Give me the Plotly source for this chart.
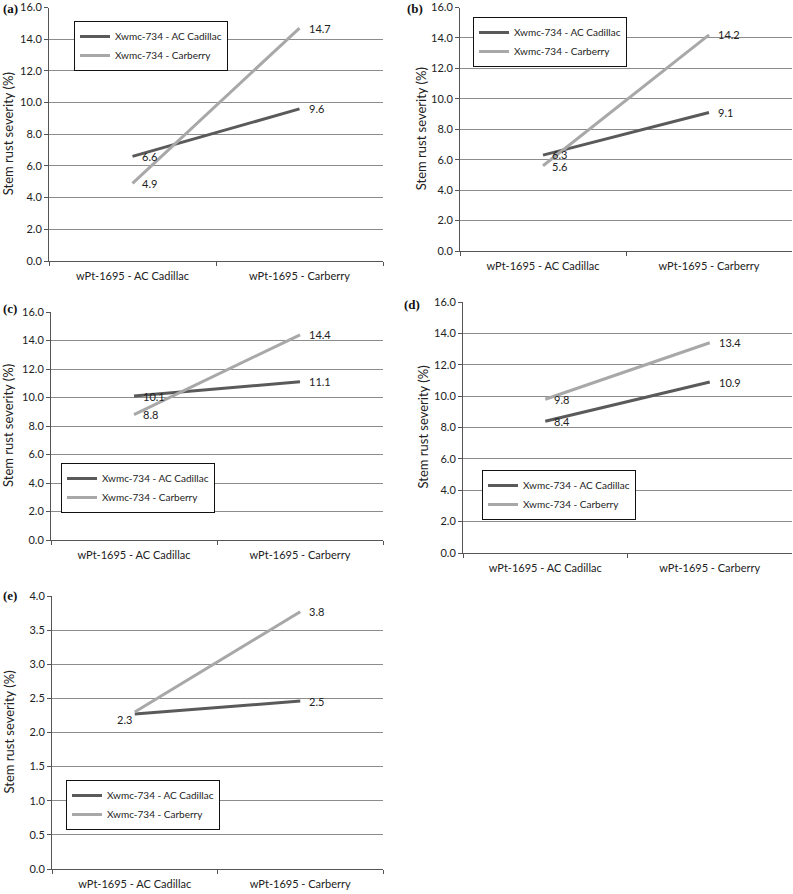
import plotly.graph_objects as go

categories = ["wPt-1695 - AC Cadillac", "wPt-1695 - Carberry"]
series_names = ["Xwmc-734 - AC Cadillac", "Xwmc-734 - Carberry"]

a_cadillac = [6.6, 9.6]
a_carberry = [4.9, 14.7]
b_cadillac = [6.3, 9.1]
b_carberry = [5.6, 14.2]
c_cadillac = [10.1, 11.1]
c_carberry = [8.8, 14.4]
d_cadillac = [8.4, 10.9]
d_carberry = [9.8, 13.4]
e_cadillac = [2.27, 2.46]
e_carberry = [2.3, 3.77]

panel_labels = ["(a)", "(b)", "(c)", "(d)", "(e)"]
y_title = "Stem rust severity (%)"
y_ticks_main = [0, 2, 4, 6, 8, 10, 12, 14, 16]
y_ticks_e = [0, 0.5, 1.0, 1.5, 2.0, 2.5, 3.0, 3.5, 4.0]

W, H = 793, 894
FONT = "Lato"
DARK = "#5a5a5a"
LIGHT = "#a8a8a8"
TXT = "#222"

def px_x(p):
    return p / W

def px_y(p):
    return 1 - p / H

# panel geometry in pixels: left, right, top, bottom
panels = [
    dict(x=(49, 383), y=(7.5, 261), data=(a_cadillac, a_carberry), ymax=16, ticks=y_ticks_main,
         legend=(74, 21), lab=(1, 8), tx=8),
    dict(x=(460, 792), y=(7.5, 251), data=(b_cadillac, b_carberry), ymax=16, ticks=y_ticks_main,
         legend=(473, 17), lab=(405, 8), tx=421),
    dict(x=(51, 383), y=(312, 540), data=(c_cadillac, c_carberry), ymax=16, ticks=y_ticks_main,
         legend=(61, 463), lab=(1, 308), tx=8),
    dict(x=(463, 792), y=(302, 553), data=(d_cadillac, d_carberry), ymax=16, ticks=y_ticks_main,
         legend=(482, 470), lab=(402, 304), tx=422),
    dict(x=(52, 383), y=(596, 869), data=(e_cadillac, e_carberry), ymax=4, ticks=y_ticks_e,
         legend=(66, 780), lab=(1, 595), tx=8),
]

fig = go.Figure()
annotations = []
layout = {}

for i, p in enumerate(panels):
    n = i + 1
    xa = "x" if n == 1 else f"x{n}"
    ya = "y" if n == 1 else f"y{n}"
    lg = "legend" if n == 1 else f"legend{n}"
    for s, (vals, col) in enumerate(zip(p["data"], (DARK, LIGHT))):
        fig.add_trace(go.Scatter(
            x=categories, y=vals, mode="lines", name=series_names[s],
            line=dict(color=col, width=3), xaxis=xa, yaxis=ya, legend=lg,
            showlegend=True, hoverinfo="skip"))
    # data labels
    for s, vals in enumerate(p["data"]):
        for j, v in enumerate(vals):
            if n == 5 and j == 0 and s == 1:
                continue
            if n == 5 and j == 0:
                annotations.append(dict(x=categories[j], y=v, xref=xa, yref=ya, text=f"{v:.1f}",
                                        showarrow=False, xanchor="right", yanchor="middle",
                                        xshift=-1, yshift=-5,
                                        font=dict(family=FONT, size=11, color=TXT)))
                continue
            ys = 0
            if n == 2 and j == 0:
                ys = 1 if s == 0 else -1
            annotations.append(dict(x=categories[j], y=v, xref=xa, yref=ya, text=f"{v:.1f}",
                                    showarrow=False, xanchor="left", yanchor="middle", xshift=7,
                                    yshift=ys,
                                    font=dict(family=FONT, size=11, color=TXT)))
    key_x = "xaxis" if n == 1 else f"xaxis{n}"
    key_y = "yaxis" if n == 1 else f"yaxis{n}"
    layout[key_x] = dict(domain=[px_x(p["x"][0]), px_x(p["x"][1])], anchor=ya,
                         type="category", range=[-0.5, 1.5], showgrid=False,
                         showline=True, linecolor="#555", linewidth=1,
                         ticks="outside", tickson="boundaries", ticklen=4, tickcolor="#555",
                         ticklabelstandoff=5, automargin=False,
                         tickfont=dict(family=FONT, size=11, color=TXT), fixedrange=True)
    layout[key_y] = dict(domain=[px_y(p["y"][1]), px_y(p["y"][0])], anchor=xa,
                         range=[0, p["ymax"]], tickvals=p["ticks"],
                         ticktext=[f"{t:.1f}" for t in p["ticks"]],
                         showgrid=True, gridcolor="#8c8c8c", gridwidth=1,
                         showline=True, linecolor="#555", linewidth=1,
                         ticks="outside", ticklen=4, tickcolor="#555",
                         zeroline=False, automargin=False,
                         tickfont=dict(family=FONT, size=11, color=TXT),
                         fixedrange=True)
    layout[lg] = dict(x=px_x(p["legend"][0]), y=px_y(p["legend"][1]), xanchor="left", yanchor="top",
                      bgcolor="white", bordercolor="#111", borderwidth=1,
                      font=dict(family=FONT, size=10, color=TXT),
                      tracegroupgap=0, itemwidth=30)
    annotations.append(dict(x=px_x(p["lab"][0]), y=px_y(p["lab"][1]), xref="paper", yref="paper",
                            text=f"<b>{panel_labels[i]}</b>", showarrow=False,
                            xanchor="left", yanchor="middle",
                            font=dict(family="Liberation Serif", size=13, color="#111")))
    annotations.append(dict(x=px_x(p["tx"]), y=px_y((p["y"][0] + p["y"][1]) / 2),
                            xref="paper", yref="paper", text=y_title, textangle=-90,
                            showarrow=False, xanchor="center", yanchor="middle",
                            font=dict(family=FONT, size=13, color=TXT)))

fig.update_layout(width=W, height=H, margin=dict(l=0, r=0, t=0, b=0, autoexpand=False),
                  paper_bgcolor="white", plot_bgcolor="white",
                  annotations=annotations, **layout)

fig.write_html("out.html", config={"displayModeBar": False},
               post_script="document.body.style.margin='0px';document.body.style.overflow='hidden';")
